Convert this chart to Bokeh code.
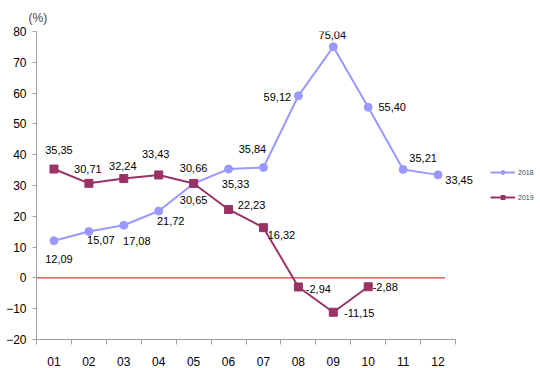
from bokeh.plotting import figure
from bokeh.models import (ColumnDataSource, Range1d, FixedTicker, Legend, LegendItem)
from bokeh.core.properties import value
from bokeh.embed import file_html
from bokeh.resources import INLINE

# ---- data ----
months = ["01", "02", "03", "04", "05", "06", "07", "08", "09", "10", "11", "12"]
v2018 = [12.09, 15.07, 17.08, 21.72, 30.65, 35.33, 35.84, 59.12, 75.04, 55.40, 35.21, 33.45]
v2019 = [35.35, 30.71, 32.24, 33.43, 30.66, 22.23, 16.32, -2.94, -11.15, -2.88]
y_ticks = [-20, -10, 0, 10, 20, 30, 40, 50, 60, 70, 80]

# label offsets (screen px; +y = down)
dx18 = [5, 12, 13, 12, 0, 7, -11, -21, -1, 24, 20, 21]
dy18 = [18, 9, 16, 10, 17, 15, -19, 1, -12, 0, -11, 5]
dx19 = [5, -1, -1, -3, 0, 23, 18, 20, 26, 17]
dy19 = [-19, -14, -13, -21, -15, -4, 7, 2, 1, 0]

FONT = "Liberation Sans"
C18 = "#9999FF"
C19 = "#993366"

# layout (px)
W, H = 540, 368
LEFT, TOP, BOTTOM = 36, 31, 29
AXIS_W = 419           # pixel length of the category axis
frame_w = W - LEFT
n = len(months)
x_end = 0.5 + n * frame_w / AXIS_W

def fmt(v):
    return f"{v:.2f}".replace(".", ",")

x18 = list(range(1, len(v2018) + 1))
x19 = list(range(1, len(v2019) + 1))
s18 = ColumnDataSource(dict(x=x18, y=v2018, t=[fmt(v) for v in v2018], dx=dx18, dy=dy18))
s19 = ColumnDataSource(dict(x=x19, y=v2019, t=[fmt(v) for v in v2019], dx=dx19, dy=dy19))

p = figure(width=W, height=H, output_backend="svg", toolbar_location=None,
           x_range=Range1d(0.5, x_end), y_range=Range1d(y_ticks[0], y_ticks[-1]),
           min_border_left=LEFT, min_border_right=0, min_border_top=TOP,
           min_border_bottom=BOTTOM, title="(%)")
p.outline_line_color = None
p.grid.visible = False
p.background_fill_color = "white"
p.title.text_font = FONT
p.title.text_font_size = "12px"
p.title.text_font_style = "normal"
p.title.align = "left"
p.title.offset = -8
p.title.standoff = 14

# zero line
p.segment(x0=[0.5], y0=[0], x1=[n + 0.2], y1=[0], line_color="#E03C3C", line_width=1.3)

l18 = p.line("x", "y", source=s18, line_color=C18, line_width=2)
m18 = p.scatter("x", "y", source=s18, marker="circle", size=8, fill_color=C18, line_color=C18)
l19 = p.line("x", "y", source=s19, line_color=C19, line_width=2)
m19 = p.scatter("x", "y", source=s19, marker="square", size=8, fill_color=C19, line_color=C19)

for s in (s18, s19):
    p.text("x", "y", text="t", source=s, x_offset="dx", y_offset="dy",
           text_align="center", text_baseline="middle",
           text_font=value(FONT), text_font_size="11px", text_color="#000000")

# axes
xa = p.xaxis[0]
xa.bounds = (0.5, n + 0.5)
xa.ticker = FixedTicker(ticks=list(range(1, n + 1)), minor_ticks=[i + 0.5 for i in range(0, n + 1)])
xa.major_label_overrides = {i + 1: m for i, m in enumerate(months)}
xa.major_tick_out = 0
xa.major_tick_in = 0
xa.minor_tick_out = 5
xa.minor_tick_in = 0
xa.major_label_standoff = 12

ya = p.yaxis[0]
ya.ticker = FixedTicker(ticks=y_ticks)
ya.minor_tick_out = 0
ya.minor_tick_in = 0
ya.major_tick_out = 4
ya.major_tick_in = 0
ya.major_label_standoff = 6

for ax in (xa, ya):
    ax.axis_line_color = "#A0A0A0"
    ax.major_tick_line_color = "#A0A0A0"
    ax.minor_tick_line_color = "#A0A0A0"
    ax.major_label_text_font = FONT
    ax.major_label_text_font_size = "12px"
    ax.major_label_text_color = "#000000"

legend = Legend(items=[LegendItem(label="2018", renderers=[l18, m18]),
                       LegendItem(label="2019", renderers=[l19, m19])],
                location=(454, 137), orientation="vertical",
                glyph_width=25, glyph_height=10, label_height=10, spacing=15,
                label_standoff=3, label_text_font=FONT, label_text_font_size="7px",
                padding=0, margin=0, border_line_color=None, background_fill_alpha=0)
p.add_layout(legend)

open("out.html", "w").write(file_html(p, INLINE))
